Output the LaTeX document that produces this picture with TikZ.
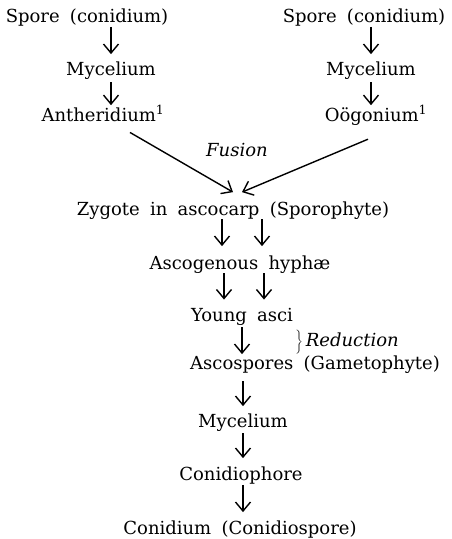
\documentclass[tikz,border=0pt]{standalone}
\usepackage{fontspec}
\setmainfont{DejaVu Serif}[WordSpace=1.8]
\usetikzlibrary{arrows.meta}
\begin{document}
\begin{tikzpicture}[x=1pt,y=-1pt,
    every node/.style={font=\fontsize{18}{22}\selectfont, inner sep=0pt, anchor=base},
    arr/.style={-{Straight Barb[length=9pt,width=15pt,line width=1.4pt]}, line width=1.4pt}]
    \useasboundingbox (0,0) rectangle (452,539);
    % Rami
    \node (sporeL) at (87,22) {Spore (conidium)};
    \node (mycL) at (111,75) {Mycelium};
    \node (antL) at (103,121) {Antheridium\textsuperscript{1}};
    \node (sporeR) at (364,22) {Spore (conidium)};
    \node (mycR) at (371,75) {Mycelium};
    \node (oogR) at (376,121) {Oögonium\textsuperscript{1}};
    \node (fus) at (237,156) {\textit{Fusion}};
    % Tronco
    \node (zyg) at (233,215) {Zygote in ascocarp (Sporophyte)};
    \node (asco) at (240,269) {Ascogenous hyphæ};
    \node (young) at (242,321) {Young asci};
    \node[anchor=base west] (red) at (294,346) {$\left.\vrule height15pt depth6pt width0pt\right\}$\,\textit{Reduction}};
    \node[anchor=base west] (ascosp) at (190,369) {Ascospores (Gametophyte)};
    \node (myc) at (243,427) {Mycelium};
    \node (conph) at (241,480) {Conidiophore};
    \node (conid) at (240,534) {Conidium (Conidiospore)};
    % Frecce
    \draw[arr, shorten <=1pt, shorten >=7pt] (mycL.north |- sporeL.south) -- (mycL.north);
    \draw[arr, shorten <=3pt] (mycL.south) -- (mycL.south |- antL.north);
    \draw[arr, shorten <=1pt, shorten >=7pt] (mycR.north |- sporeR.south) -- (mycR.north);
    \draw[arr, shorten <=3pt] (mycR.south) -- (mycR.south |- oogR.north);
    \draw[arr] ([xshift=27pt,yshift=-11pt]antL.south) -- ([yshift=9pt]zyg.north);
    \draw[arr] ([xshift=-8pt,yshift=-14pt]oogR.south) -- ([xshift=9pt,yshift=9pt]zyg.north);
    \draw[arr, shorten >=9pt] ([xshift=-18pt]asco.north |- zyg.south) -- ([xshift=-18pt]asco.north);
    \draw[arr, shorten >=9pt] ([xshift=22pt]asco.north |- zyg.south) -- ([xshift=22pt]asco.north);
    \draw[arr, shorten >=8pt] ([xshift=-18pt]young.north |- asco.south) -- ([xshift=-18pt]young.north);
    \draw[arr, shorten >=8pt] ([xshift=22pt]young.north |- asco.south) -- ([xshift=22pt]young.north);
    \draw[arr, shorten <=2pt, shorten >=1pt] (young.south) -- (young.south |- ascosp.north);
    \draw[arr, shorten <=8pt, shorten >=7pt] (myc.north |- ascosp.south) -- (myc.north);
    \draw[arr, shorten <=2pt, shorten >=8pt] (myc.south) -- (myc.south |- conph.north);
    \draw[arr, shorten <=1pt, shorten >=8pt] ([xshift=2pt]conph.south) -- ([xshift=2pt]conph.south |- conid.north);
\end{tikzpicture}
\end{document}
